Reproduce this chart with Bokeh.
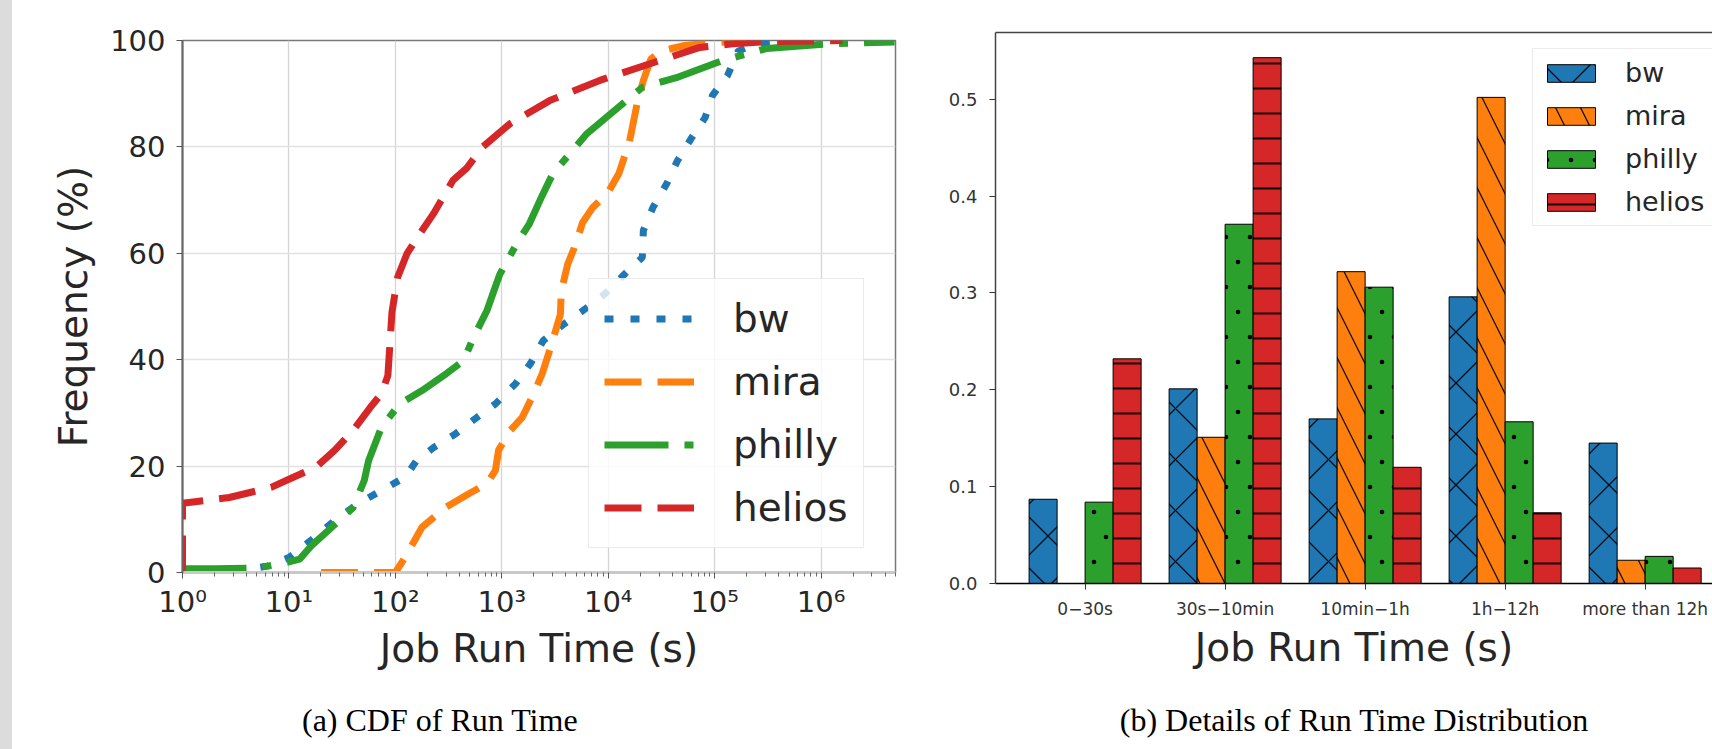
import base64
import numpy as np
from bokeh.plotting import figure
from bokeh.layouts import row, column
from bokeh.models import (FixedTicker, CustomJSTickFormatter, Legend, LegendItem, Div,
                          Range1d, LinearAxis, ColumnDataSource, ImageURLTexture)
from bokeh.core.properties import value
from bokeh.transform import dodge
from bokeh.embed import file_html
from bokeh.resources import INLINE

# ---------------- data: CDF of run time (seconds, percent) ----------------
series = ["bw", "mira", "philly", "helios"]
colors = ["#1f77b4", "#ff7f0e", "#2ca02c", "#d62728"]

bw_t = [1, 2, 4, 6.3, 10, 16, 27, 45, 74, 123, 158, 229, 363, 562, 871, 1349, 1862, 2455,
        3890, 5754, 9333, 14450, 20900, 21380, 26300, 35480, 44670, 60260, 81280, 95500,
        131800, 166000, 251200, 501200]
bw_p = [0.5, 0.5, 0.6, 1.2, 2.8, 6.0, 9.8, 13.0, 15.4, 17.9, 21.0, 23.5, 26.0, 28.9, 31.7,
        35.5, 39.3, 43.6, 46.8, 49.2, 52.4, 56.2, 59.2, 64.3, 68.6, 73.1, 77.4, 81.6, 85.5,
        89.7, 93.4, 98.0, 99.5, 100.0]

mira_t = [20, 100, 123, 178, 295, 490, 724, 871, 933, 1202, 1549, 1995, 2399, 2950, 3550,
          3630, 4170, 4790, 5750, 7080, 10000, 12590, 15850, 18620, 21380, 25120, 31620,
          50120, 100000, 199500]
mira_p = [0.0, 0.0, 2.8, 8.5, 12.2, 14.8, 16.7, 19.2, 23.0, 26.7, 29.1, 33.6, 37.4, 43.0,
          48.5, 53.0, 58.0, 61.0, 65.8, 68.5, 71.5, 75.0, 81.0, 88.0, 92.5, 96.5, 98.0,
          99.0, 99.6, 100.0]

philly_t = [1, 2, 4, 6.3, 10, 12.6, 16, 23.4, 40, 51, 56, 74, 110, 178, 302, 437, 537, 724,
            955, 1380, 1820, 2290, 3020, 6310, 14800, 20900, 43650, 117500, 309000,
            1259000, 4900000]
philly_p = [0.7, 0.7, 0.8, 1.2, 2.0, 2.5, 4.9, 7.9, 12.2, 17.3, 21.0, 27.3, 31.7, 34.2,
            37.4, 39.8, 44.0, 49.2, 56.0, 61.8, 65.6, 70.0, 75.0, 82.5, 88.7, 91.2, 93.0,
            96.2, 98.5, 99.4, 99.7]

helios_t = [1, 1, 2.75, 6.8, 11, 18, 27, 40, 58, 74, 85, 93, 105, 129, 170, 229, 347, 468,
            661, 1202, 2818, 8318, 30200, 72444, 147900, 316000, 1585000]
helios_p = [0.0, 13.0, 14.1, 16.0, 17.9, 19.8, 23.0, 26.7, 31.0, 33.6, 37.0, 49.0, 55.5,
            60.0, 63.7, 67.5, 73.7, 76.0, 80.0, 84.4, 88.7, 92.5, 96.2, 98.7, 99.4, 99.8,
            100.0]

x_ticks = [1, 10, 100, 1000, 10000, 100000, 1000000]
y_ticks = [0, 20, 40, 60, 80, 100]

# ---------------- data: run time distribution ----------------
categories = ["0\u221230s", "30s\u221210min", "10min\u22121h", "1h\u221212h", "more than 12h"]
bw_frac = [0.087, 0.201, 0.170, 0.296, 0.145]
mira_frac = [0.0, 0.151, 0.322, 0.502, 0.024]
philly_frac = [0.084, 0.371, 0.306, 0.167, 0.028]
helios_frac = [0.232, 0.543, 0.120, 0.073, 0.016]
bar_ticks = [0.0, 0.1, 0.2, 0.3, 0.4, 0.5]

captions = ["(a) CDF of Run Time", "(b) Details of Run Time Distribution"]

# =============== left: CDF ===============
FONT = "DejaVu Sans"
p1 = figure(width=908, height=700, x_axis_type="log",
            x_range=Range1d(1, 5.0e6), y_range=Range1d(0, 100),
            output_backend="svg", toolbar_location=None,
            min_border_left=170, min_border_right=25,
            min_border_top=40, min_border_bottom=128)
p1.background_fill_color = "white"
p1.border_fill_color = "white"
p1.outline_line_color = "#777777"
p1.outline_line_width = 1.5

minor = []
for d in x_ticks:
    for k in range(2, 10):
        minor.append(k * d)
p1.xaxis.ticker = FixedTicker(ticks=x_ticks, minor_ticks=minor)
p1.xaxis.formatter = CustomJSTickFormatter(code=r"""
const sup = {"0":"\u2070","1":"\u00b9","2":"\u00b2","3":"\u00b3","4":"\u2074",
             "5":"\u2075","6":"\u2076","7":"\u2077","8":"\u2078","9":"\u2079","-":"\u207b"};
const e = Math.round(Math.log10(tick));
let s = "";
for (const c of String(e)) { s += sup[c]; }
return "10" + s;
""")
p1.yaxis.ticker = FixedTicker(ticks=y_ticks)

for ax in (p1.xaxis, p1.yaxis):
    ax.major_label_text_font = FONT
    ax.major_label_text_font_size = "29px"
    ax.major_label_text_color = "#262626"
    ax.axis_label_text_font = FONT
    ax.axis_label_text_font_size = "39px"
    ax.axis_label_text_font_style = "normal"
    ax.axis_label_text_color = "#262626"
    ax.major_tick_line_color = "#555555"
    ax.major_tick_out = 6
    ax.major_tick_in = 0
p1.xaxis.axis_label = "Job Run Time (s)"
p1.yaxis.axis_label = "Frequency (%)"
p1.xaxis.major_label_standoff = 6
p1.xaxis.axis_label_standoff = 4
p1.yaxis.major_label_standoff = 11
p1.yaxis.axis_label_standoff = 11
p1.xaxis.axis_line_color = "#c8c8c8"
p1.xaxis.axis_line_width = 3
p1.yaxis.axis_line_color = "#666666"
p1.yaxis.axis_line_width = 2
p1.xaxis.minor_tick_line_color = "#666666"
p1.xaxis.minor_tick_out = 4
p1.xaxis.minor_tick_in = 0
p1.yaxis.minor_tick_line_color = None

p1.xgrid.grid_line_color = "#d4d4d4"
p1.ygrid.grid_line_color = "#e2e2e2"
p1.xgrid.grid_line_width = 1.3
p1.ygrid.grid_line_width = 1.3

dashes = ["9 17", "37 16", "64 16 9 16", "37 16"]
data_t = [bw_t, mira_t, philly_t, helios_t]
data_p = [bw_p, mira_p, philly_p, helios_p]
lines = []
for name, c, dsh, t, pc in zip(series, colors, dashes, data_t, data_p):
    r = p1.line(x=t, y=pc, line_color=c, line_width=7, line_dash=dsh)
    lines.append(r)

leg1 = Legend(items=[LegendItem(label=n, renderers=[r]) for n, r in zip(series, lines)],
              location=(406, 24))
leg1.label_text_font = FONT
leg1.label_text_font_size = "39px"
leg1.label_text_color = "#262626"
leg1.glyph_width = 90
leg1.glyph_height = 49
leg1.label_height = 49
leg1.label_standoff = 39
leg1.spacing = 14
leg1.padding = 15
leg1.margin = 0
leg1.border_line_color = "#d8d8d8"
leg1.border_line_width = 1.5
leg1.background_fill_color = "white"
leg1.background_fill_alpha = 0.8
p1.add_layout(leg1)

# =============== right: bar chart ===============
src = ColumnDataSource(dict(pos=list(range(len(categories))), bw=bw_frac, mira=mira_frac,
                            philly=philly_frac, helios=helios_frac))
p2 = figure(width=792, height=700, x_range=Range1d(-0.64, 4.481), y_range=Range1d(0, 0.569),
            output_backend="svg", toolbar_location=None,
            min_border_left=75, min_border_right=0,
            min_border_top=32, min_border_bottom=117)
p2.outline_line_color = None
p2.xgrid.visible = False
p2.ygrid.visible = False

dot_tile = ('<svg xmlns="http://www.w3.org/2000/svg" width="24" height="50">'
            '<circle cx="6" cy="12" r="2.3" fill="black"/>'
            '<circle cx="18" cy="37" r="2.3" fill="black"/></svg>')
dot_url = "data:image/svg+xml;base64," + base64.b64encode(dot_tile.encode()).decode()
small_dots = ImageURLTexture(url=dot_url)

offsets = [-0.3, -0.1, 0.1, 0.3]
hatches = ["x", "\\", "sdots", "-"]
hscales = [51, 50, 24, 25]
hweights = [1.3, 1.3, 1.0, 2.0]
bars = []
for name, c, off, h, hs, hw in zip(series, colors, offsets, hatches, hscales, hweights):
    kw = {}
    if h == "sdots":
        kw["hatch_pattern"] = value("sdots")
        kw["hatch_extra"] = {"sdots": small_dots}
    else:
        kw["hatch_pattern"] = h
    r = p2.vbar(x=dodge("pos", off), top=name, width=0.2, bottom=0, source=src,
                fill_color=c, line_color="black", line_width=1,
                hatch_scale=hs, hatch_color="black", hatch_weight=hw,
                hatch_alpha=0.9, **kw)
    bars.append(r)

p2.xaxis.ticker = FixedTicker(ticks=list(range(len(categories))))
p2.xaxis.major_label_overrides = {i: c for i, c in enumerate(categories)}
p2.yaxis.ticker = FixedTicker(ticks=bar_ticks)
p2.yaxis.major_label_overrides = {t: "%.1f" % t for t in bar_ticks}
for ax in (p2.xaxis, p2.yaxis):
    ax.major_label_text_font = FONT
    ax.major_label_text_color = "#333333"
    ax.major_tick_line_color = "#333333"
    ax.major_tick_out = 6
    ax.major_tick_in = 0
    ax.minor_tick_line_color = None
    ax.axis_label_text_font = FONT
    ax.axis_label_text_font_size = "39px"
    ax.axis_label_text_font_style = "normal"
    ax.axis_label_text_color = "#262626"
p2.xaxis.major_label_text_font_size = "17px"
p2.yaxis.major_label_text_font_size = "18px"
p2.xaxis.major_label_standoff = 9
p2.yaxis.major_label_standoff = 12
p2.xaxis.axis_label = "Job Run Time (s)"
p2.xaxis.axis_label_standoff = 3
p2.xaxis.axis_line_color = "black"
p2.xaxis.axis_line_width = 1.5
p2.yaxis.axis_line_color = "#444444"
p2.yaxis.axis_line_width = 1.5

top_spine = LinearAxis(ticker=FixedTicker(ticks=[]), axis_line_color="#444444",
                       axis_line_width=1.5, major_tick_line_color=None,
                       minor_tick_line_color=None, major_label_text_font_size="0px")
p2.add_layout(top_spine, "above")

leg2 = Legend(items=[LegendItem(label=n, renderers=[r]) for n, r in zip(series, bars)],
              location=(537, 357))
leg2.label_text_font = FONT
leg2.label_text_font_size = "27px"
leg2.label_text_color = "#262626"
leg2.glyph_width = 60
leg2.glyph_height = 22
leg2.label_height = 31
leg2.label_standoff = 24
leg2.spacing = 12
leg2.padding = 8
leg2.margin = 0
leg2.border_line_color = "#d8d8d8"
leg2.border_line_width = 1.5
leg2.background_fill_alpha = 0.8
p2.add_layout(leg2)

# =============== captions and left strip ===============
CAP = "font-family:'Liberation Serif'; font-size:32px; line-height:40px; white-space:nowrap; color:black;"
cap1 = Div(text='<div style="%s padding-left:290px;">%s</div>' % (CAP, captions[0]),
           width=908, height=40, margin=(0, 0, 0, 0))
cap2 = Div(text='<div style="%s width:868px; text-align:center;">%s</div>' % (CAP, captions[1]),
           width=792, height=40, margin=(0, 0, 0, 0))
strip = Div(text="", width=12, height=749, margin=(0, 0, 0, 0),
            styles={"background-color": "#dcdcdc"})

layout = row(strip, column(p1, cap1), column(p2, cap2))
open("out.html", "w").write(file_html(layout, INLINE))
